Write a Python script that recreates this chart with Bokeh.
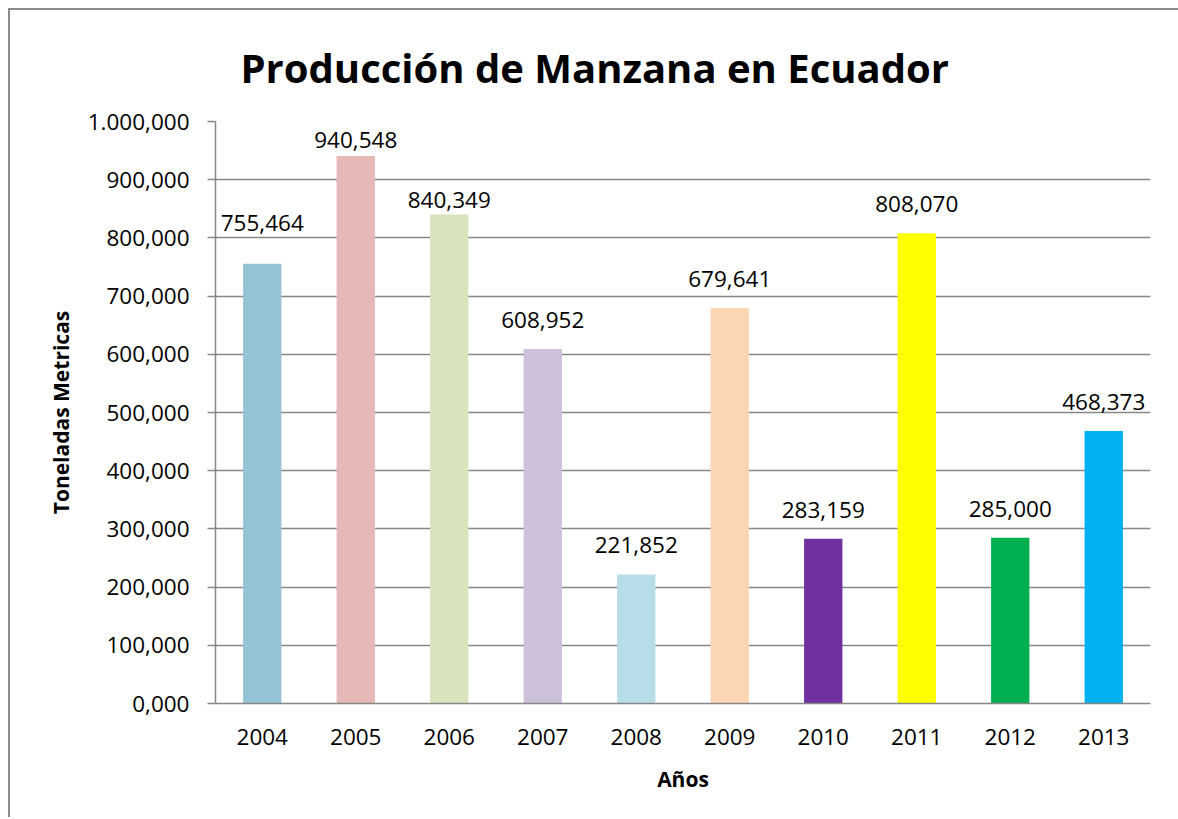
from bokeh.plotting import figure
from bokeh.models import ColumnDataSource, Range1d, FactorRange, FixedTicker
from bokeh.core.properties import value
from bokeh.embed import file_html
from bokeh.resources import INLINE

# ---- data ----
title_text = "Producción de Manzana en Ecuador"
years = ["2004", "2005", "2006", "2007", "2008", "2009", "2010", "2011", "2012", "2013"]
production = [755464, 940548, 840349, 608952, 221852, 679641, 283159, 808070, 285000, 468373]
bar_colors = ["#93C3D4", "#E6B8B7", "#D8E4BC", "#CCC0DA", "#B7DEE8",
              "#FCD5B4", "#7030A0", "#FFFF00", "#00B050", "#00B0F0"]
y_ticks = [0, 100000, 200000, 300000, 400000, 500000, 600000, 700000, 800000, 900000, 1000000]
y_tick_labels = ["0,000", "100,000", "200,000", "300,000", "400,000", "500,000",
                 "600,000", "700,000", "800,000", "900,000", "1.000,000"]
# label gap above each bar (screen px, style only)
label_gap = [41, 16, 14, 29, 29, 29, 29, 29, 29, 29]

FONT = "Open Sans"
GRAY = "#878787"

src = ColumnDataSource(dict(
    x=years, top=production, color=bar_colors,
    label=[f"{v:,}" for v in production],
    yoff=[-g for g in label_gap],
))

p = figure(
    width=1170, height=809,
    x_range=FactorRange(*years, range_padding=0),
    y_range=Range1d(0, 1000000),
    output_backend="svg", toolbar_location=None,
    min_border_left=205, min_border_top=111, min_border_right=30, min_border_bottom=116,
    title=title_text,
)
p.styles = {"margin-left": "8px", "margin-top": "8px",
            "border-left": "2px solid #8a8a8a", "border-top": "2px solid #8a8a8a",
            "border-right": "0px none", "border-bottom": "0px none"}
p.outline_line_color = None
p.background_fill_color = "white"
p.border_fill_color = "white"

p.title.text_font = FONT
p.title.text_font_size = "40px"
p.title.text_font_style = "bold"
p.title.text_color = "black"
p.title.align = "left"
p.title.offset = 25
p.title.standoff = 54

p.vbar(x="x", top="top", width=0.41, bottom=0, fill_color="color", line_color=None, source=src)

p.text(x="x", y="top", text="label", y_offset="yoff", source=src,
       text_font=value(FONT), text_font_size="22.5px", text_color="black",
       text_align="center", text_baseline="alphabetic")

# grids
p.xgrid.grid_line_color = None
p.ygrid.grid_line_color = GRAY
p.ygrid.grid_line_width = 1.5
p.ygrid.ticker = FixedTicker(ticks=y_ticks)

# y axis
p.yaxis.ticker = FixedTicker(ticks=y_ticks)
p.yaxis.major_label_overrides = {t: s for t, s in zip(y_ticks, y_tick_labels)}
p.yaxis.axis_line_color = GRAY
p.yaxis.axis_line_width = 1.5
p.yaxis.major_tick_line_color = GRAY
p.yaxis.major_tick_line_width = 1.5
p.yaxis.major_tick_out = 8
p.yaxis.major_tick_in = 0
p.yaxis.minor_tick_line_color = None
p.yaxis.major_label_text_font = FONT
p.yaxis.major_label_text_font_size = "22.5px"
p.yaxis.major_label_text_color = "black"
p.yaxis.major_label_standoff = 18
p.yaxis.axis_label = "Toneladas Metricas"
p.yaxis.axis_label_text_font = FONT
p.yaxis.axis_label_text_font_size = "21px"
p.yaxis.axis_label_text_font_style = "bold"
p.yaxis.axis_label_text_color = "black"
p.yaxis.axis_label_standoff = 10

# x axis
p.xaxis.axis_line_color = GRAY
p.xaxis.axis_line_width = 1.5
p.xaxis.major_tick_line_color = None
p.xaxis.major_tick_out = 0
p.xaxis.major_tick_in = 0
p.xaxis.minor_tick_line_color = None
p.xaxis.major_label_text_font = FONT
p.xaxis.major_label_text_font_size = "22.5px"
p.xaxis.major_label_text_color = "black"
p.xaxis.major_label_standoff = 25
p.xaxis.axis_label = "Años"
p.xaxis.axis_label_text_font = FONT
p.xaxis.axis_label_text_font_size = "21px"
p.xaxis.axis_label_text_font_style = "bold"
p.xaxis.axis_label_text_color = "black"
p.xaxis.axis_label_standoff = 17

open("out.html", "w").write(file_html(p, INLINE))
